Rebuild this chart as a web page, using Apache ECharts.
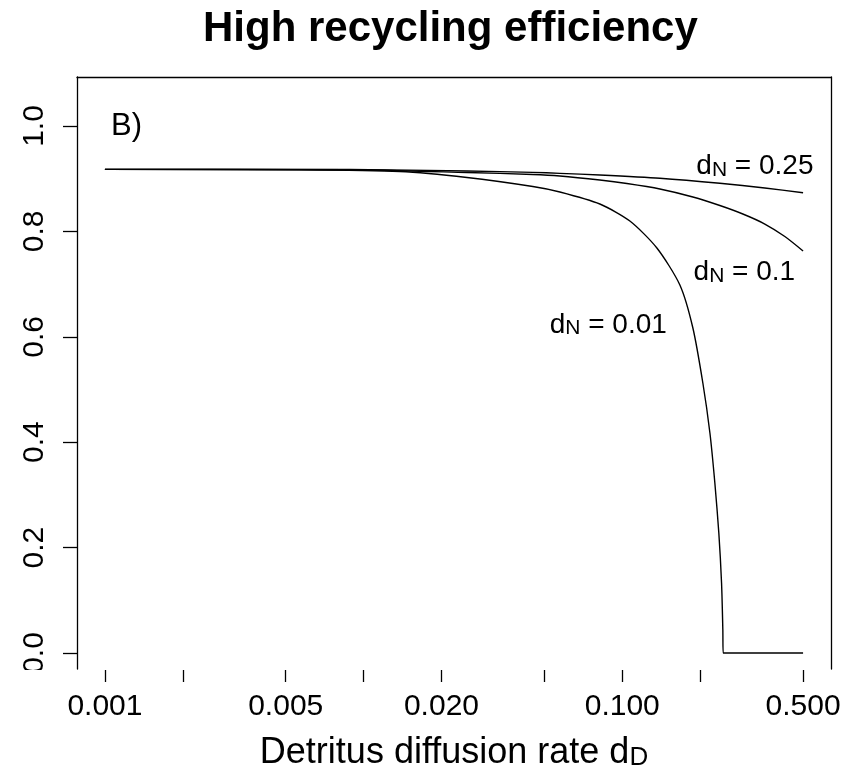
<!DOCTYPE html>
<html>
<head>
<meta charset="utf-8">
<title>High recycling efficiency</title>
<script src="https://cdn.jsdelivr.net/npm/echarts@6.0.0/dist/echarts.min.js"></script>
<style>
  html, body { margin: 0; padding: 0; background: #fff; }
  #main { width: 859px; height: 775px; }
</style>
</head>
<body>
<div id="main"></div>
<script>
var chart = echarts.init(document.getElementById('main'));

// [detritus diffusion rate d_D, value]
var dn025 = [[0.001, 0.9177], [0.00885, 0.9175], [0.0251, 0.9146], [0.0451, 0.9121],
  [0.0574, 0.9102], [0.0819, 0.9070], [0.1398, 0.9008], [0.2384, 0.8913],
  [0.3557, 0.8824], [0.5, 0.8734]];
var dn010 = [[0.001, 0.9177], [0.00885, 0.9170], [0.0251, 0.9118], [0.0451, 0.9080],
  [0.0574, 0.9051], [0.0819, 0.8975], [0.1042, 0.8909], [0.1398, 0.8805],
  [0.1875, 0.8653], [0.2384, 0.8491], [0.2925, 0.8330], [0.3557, 0.8140],
  [0.4251, 0.7903], [0.5, 0.7628]];
var dn001 = [[0.001, 0.9177], [0.00567, 0.9169], [0.0138, 0.9137], [0.0251, 0.9023],
  [0.0451, 0.8852], [0.0574, 0.8748], [0.0819, 0.8520], [0.1070, 0.8197],
  [0.1361, 0.7685], [0.1670, 0.6983], [0.1875, 0.6167], [0.2049, 0.5123],
  [0.2182, 0.4175], [0.2280, 0.3226], [0.2362, 0.2277], [0.2420, 0.1328],
  [0.2448, 0.0436], [0.2455, 0], [0.26, 0], [0.5, 0]];

var xTicks = [0.001, 0.002, 0.005, 0.01, 0.02, 0.05, 0.1, 0.2, 0.5];
var xLabels = [0.001, 0.005, 0.02, 0.1, 0.5];
var yTicks = [0, 0.2, 0.4, 0.6, 0.8, 1.0];

var FONT = 'Liberation Sans, Arial, Helvetica, sans-serif';
var xMin = 0.00078, xMax = 0.6411;
var yMin = -0.0304, yMax = 1.093;

function curveLabel(txt) {
  return {
    show: true,
    position: 'inside',
    formatter: '{m|d}{s|N}{m| = ' + txt + '}',
    rich: {
      m: { fontFamily: FONT, fontSize: 28, color: '#000', lineHeight: 28, padding: [0, 0, 12, 0], verticalAlign: 'top' },
      s: { fontFamily: FONT, fontSize: 21, color: '#000', lineHeight: 28, verticalAlign: 'bottom' }
    }
  };
}

function curve(name, data, lx, ly) {
  return {
    name: name,
    type: 'line',
    data: data,
    showSymbol: false,
    smooth: 0.25,
    lineStyle: { color: '#000', width: 1.4 },
    silent: true,
    markPoint: {
      symbol: 'circle',
      symbolSize: 0,
      label: curveLabel(name),
      data: [{ coord: [lx, ly] }]
    }
  };
}

var option = {
  backgroundColor: '#fff',
  animation: false,
  title: {
    text: 'High recycling efficiency',
    left: 198,
    top: 3,
    textStyle: { fontFamily: FONT, fontSize: 42, fontWeight: 'bold', color: '#000' }
  },
  grid: { left: 77, right: 28, top: 77, bottom: 106, containLabel: false, outerBoundsMode: 'none' },
  xAxis: [{
    type: 'log',
    min: xMin,
    max: xMax,
    offset: 1,
    axisLine: { show: false, onZero: false },
    axisTick: { show: true, length: 12, customValues: xTicks, lineStyle: { color: '#000', width: 1.3 } },
    axisLabel: {
      customValues: xLabels,
      margin: 22,
      fontFamily: FONT,
      fontSize: 30,
      color: '#000',
      formatter: function (v) { return Number(v).toFixed(3); }
    },
    splitLine: { show: false },
    name: '{m|Detritus diffusion rate d}{s|D}',
    nameLocation: 'middle',
    nameGap: 65,
    nameTextStyle: {
      rich: {
        m: { fontFamily: FONT, fontSize: 36, color: '#000', lineHeight: 36, padding: [0, 0, 17, 0], verticalAlign: 'top' },
        s: { fontFamily: FONT, fontSize: 26, color: '#000', lineHeight: 26, verticalAlign: 'bottom' }
      }
    }
  }, {
    type: 'log',
    position: 'top',
    min: xMin,
    max: xMax,
    axisLine: { show: true, onZero: false, lineStyle: { color: '#000', width: 1.3 } },
    axisTick: { show: false },
    axisLabel: { show: false },
    splitLine: { show: false }
  }],
  yAxis: [{
    type: 'value',
    min: yMin,
    max: yMax,
    axisLine: { show: true, onZero: false, lineStyle: { color: '#000', width: 1.3 } },
    axisTick: { show: true, length: 14, customValues: yTicks, lineStyle: { color: '#000', width: 1.3 } },
    axisLabel: {
      customValues: yTicks,
      rotate: 90,
      margin: 27,
      fontFamily: FONT,
      fontSize: 30,
      color: '#000',
      formatter: function (v) { return Number(v).toFixed(1); }
    },
    splitLine: { show: false }
  }, {
    type: 'value',
    position: 'right',
    min: yMin,
    max: yMax,
    axisLine: { show: true, onZero: false, lineStyle: { color: '#000', width: 1.3 } },
    axisTick: { show: false },
    axisLabel: { show: false },
    splitLine: { show: false }
  }],
  series: [
    curve('0.25', dn025, 0.3256, 0.9235),
    curve('0.1', dn010, 0.2965, 0.7224),
    curve('0.01', dn001, 0.0883, 0.6227)
  ],
  graphic: [{
    type: 'text',
    x: 111,
    y: 126,
    style: { text: 'B)', font: '31px ' + FONT, fill: '#000', verticalAlign: 'middle' }
  }, {
    // plot region is cut just below the 0.0 label in the original
    type: 'rect',
    z: 100,
    shape: { x: 0, y: 670, width: 72, height: 18 },
    style: { fill: '#fff' }
  }]
};

chart.setOption(option);
</script>
</body>
</html>
